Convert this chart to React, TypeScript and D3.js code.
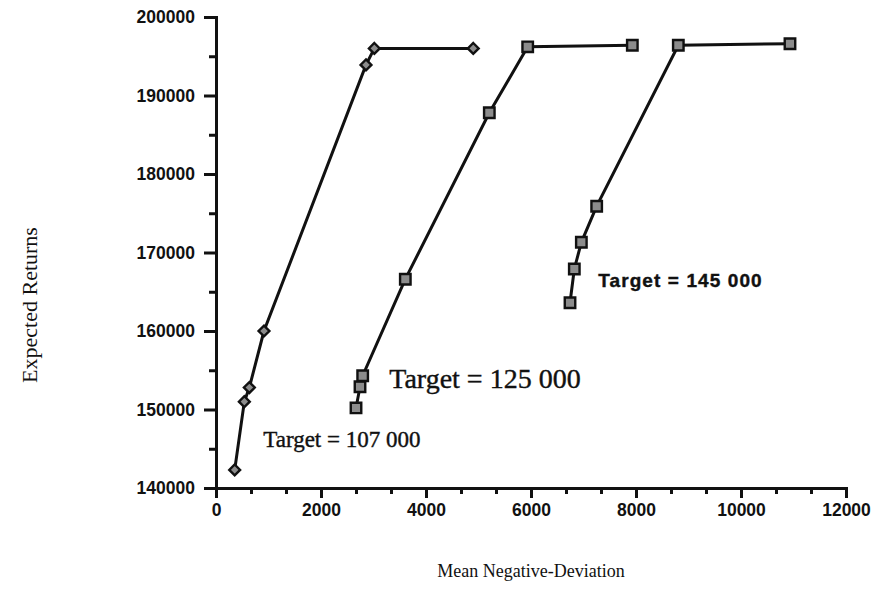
import { useRef, useEffect } from "react";
import * as d3 from "d3";

// Mean negative-deviation (x) vs expected returns (y), one frontier per target
const target107X = [356, 540, 635, 914, 2857, 3016, 4900];
const target107Y = [142300, 151000, 152800, 160000, 193900, 196000, 196000];

const target125X = [2667, 2743, 2794, 3606, 5206, 5937, 7930];
const target125Y = [150200, 152900, 154300, 166600, 187800, 196200, 196400];

const target145X = [6743, 6825, 6959, 7251, 8806, 10933];
const target145Y = [163600, 167900, 171300, 175900, 196400, 196600];

const xTicks = [0, 2000, 4000, 6000, 8000, 10000, 12000];
const yTicks = [140000, 150000, 160000, 170000, 180000, 190000, 200000];

const labels = [
  { text: "Target = 107 000", x: 900, y: 145200 },
  { text: "Target = 125 000", x: 3300, y: 152700 },
  { text: "Target = 145 000", x: 7280, y: 165600 },
];

interface Pt {
  x: number;
  y: number;
}

const zip = (xs: number[], ys: number[]): Pt[] =>
  xs.map((x, i) => ({ x, y: ys[i] }));

export default function App() {
  const svgRef = useRef<SVGSVGElement>(null);

  useEffect(() => {
    if (!svgRef.current) return;
    const svg = d3.select(svgRef.current);
    svg.selectAll("*").remove();

    const width = 880;
    const height = 590;
    svg.attr("viewBox", `0 0 ${width} ${height}`);

    const x = d3.scaleLinear().domain([0, 12000]).range([216, 846]);
    const y = d3.scaleLinear().domain([140000, 200000]).range([488, 17]);

    const ink = "#111";
    const sans = "'Liberation Sans', Arial, sans-serif";
    const serif = "'Liberation Serif', 'Times New Roman', serif";

    // Y axis: major + minor ticks
    svg
      .append("g")
      .attr("class", "axis")
      .attr("transform", `translate(${x(0)},0)`)
      .call(
        d3
          .axisLeft(y)
          .tickValues(yTicks)
          .tickSize(12)
          .tickPadding(9)
          .tickFormat((d) => String(d)),
      );
    svg
      .append("g")
      .attr("class", "axis")
      .attr("transform", `translate(${x(0)},0)`)
      .call(
        d3
          .axisLeft(y)
          .tickValues(d3.range(145000, 200000, 10000))
          .tickSize(7)
          .tickFormat(() => ""),
      )
      .select(".domain")
      .remove();

    // X axis: major + minor ticks (3 per interval)
    svg
      .append("g")
      .attr("class", "axis")
      .attr("transform", `translate(0,${y(140000)})`)
      .call(
        d3
          .axisBottom(x)
          .tickValues(xTicks)
          .tickSize(10)
          .tickPadding(6)
          .tickFormat((d) => String(d)),
      );
    const minorX = d3
      .range(0, 12000, 2000 / 3)
      .filter((_, i) => i % 3 !== 0);
    svg
      .append("g")
      .attr("class", "axis")
      .attr("transform", `translate(0,${y(140000)})`)
      .call(
        d3
          .axisBottom(x)
          .tickValues(minorX)
          .tickSize(6)
          .tickFormat(() => ""),
      )
      .select(".domain")
      .remove();

    svg
      .selectAll(".axis path, .axis line")
      .attr("stroke", ink)
      .attr("stroke-width", 3);
    svg
      .selectAll(".axis text")
      .style("font-family", sans)
      .style("font-weight", "bold")
      .style("font-size", "17.5px")
      .style("fill", ink);

    // Axis titles
    svg
      .append("text")
      .attr("x", 531)
      .attr("y", 577)
      .attr("text-anchor", "middle")
      .style("font-family", serif)
      .style("font-size", "18px")
      .style("fill", ink)
      .text("Mean Negative-Deviation");
    svg
      .append("text")
      .attr("transform", "rotate(-90)")
      .attr("x", -305)
      .attr("y", 37)
      .attr("text-anchor", "middle")
      .style("font-family", serif)
      .style("font-size", "22px")
      .style("fill", ink)
      .text("Expected Returns");

    const line = d3
      .line<Pt>()
      .x((d) => x(d.x))
      .y((d) => y(d.y));

    const series = [
      { pts: zip(target107X, target107Y), shape: d3.symbolDiamond2, size: 75 },
      { pts: zip(target125X, target125Y), shape: d3.symbolSquare, size: 110 },
      { pts: zip(target145X, target145Y), shape: d3.symbolSquare, size: 110 },
    ];

    series.forEach((s) => {
      svg
        .append("path")
        .datum(s.pts)
        .attr("d", line)
        .attr("fill", "none")
        .attr("stroke", ink)
        .attr("stroke-width", 3);
      svg
        .append("g")
        .selectAll("path")
        .data(s.pts)
        .join("path")
        .attr("transform", (d) => `translate(${x(d.x)},${y(d.y)})`)
        .attr("d", d3.symbol().type(s.shape).size(s.size)())
        .attr("fill", "#8c8c8c")
        .attr("stroke", ink)
        .attr("stroke-width", 2.4);
    });

    // Target annotations
    const note = (i: number, font: string, size: number) =>
      svg
        .append("text")
        .attr("x", x(labels[i].x))
        .attr("y", y(labels[i].y))
        .style("font-family", font)
        .style("font-size", `${size}px`)
        .style("fill", ink)
        .style("stroke", ink)
        .style("stroke-width", "0.4px")
        .text(labels[i].text);
    note(0, serif, 23);
    note(1, serif, 28);
    note(2, sans, 19)
      .style("font-weight", "bold")
      .style("letter-spacing", "1.1px");

    return () => {
      svg.selectAll("*").remove();
    };
  }, []);

  return (
    <svg
      ref={svgRef}
      width={880}
      height={590}
      style={{ position: "absolute", left: 0, top: 0, background: "#fff" }}
    />
  );
}
